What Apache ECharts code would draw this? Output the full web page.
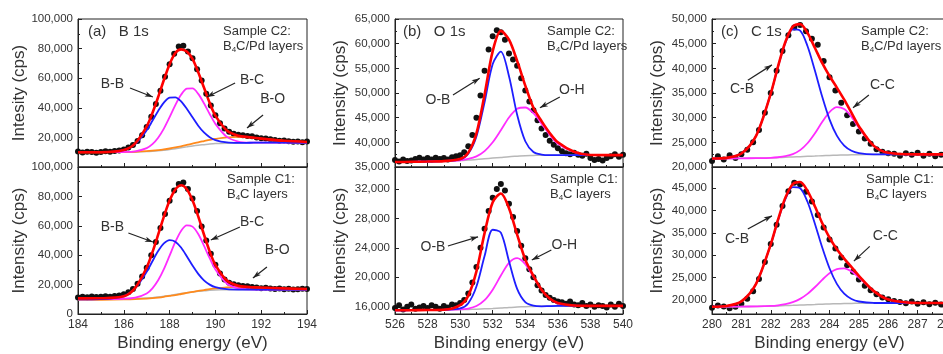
<!DOCTYPE html>
<html>
<head>
<meta charset="utf-8">
<script src="https://cdn.jsdelivr.net/npm/echarts@6/dist/echarts.min.js"></script>
<style>
  html, body { margin: 0; padding: 0; background: #fff; }
  #chart { width: 943px; height: 354px; }
</style>
</head>
<body>
<div id="chart"></div>
<script>
// ---- B 1s (binding energy grid for fitted curves / measured points)
const bCurveX = [184,185,186,186.5,187,187.25,187.5,187.75,188,188.25,188.5,188.75,189,189.25,189.5,189.75,190,190.5,191,191.5,192,193,194];
const bDotX = [184,184.2,184.4,184.6,184.8,185,185.2,185.4,185.6,185.8,186,186.2,186.4,186.6,186.8,187,187.2,187.4,187.6,187.8,188,188.2,188.4,188.6,188.8,189,189.2,189.4,189.6,189.8,190,190.2,190.4,190.6,190.8,191,191.2,191.4,191.6,191.8,192,192.2,192.4,192.6,192.8,193,193.2,193.4,193.6,193.8,194];

// sample C2 (B4C/Pd)
const b1sC2Dots = [10400,9800,10300,10100,9700,10200,10600,10300,10800,11200,11900,13200,14800,17600,21500,27000,34000,42500,51500,61000,69500,76500,81500,82000,78000,73500,66000,58500,49500,41500,35000,29500,26000,23800,22500,21800,21500,21000,20700,20000,19500,19200,18800,18200,17800,17900,17400,17000,17300,16800,17200];
const b1sC2Bg  = [10000,10000,10100,10200,10400,10600,10900,11300,11800,12400,13000,13600,14200,14700,15100,15500,15800,16100,16300,16400,16500,16500,16500];
const b1sC2BB  = [10000,10030,11430,15460,24770,31220,37900,43530,46850,47100,44350,39370,33540,27900,23320,20160,18200,16590,16300,16400,16500,16500,16500];
const b1sC2BC  = [10000,10000,10150,10620,12780,15430,19770,25950,33660,41860,48800,52880,53090,49430,43100,35850,29150,20340,17190,16520,16500,16500,16500];
const b1sC2BO  = [9900,9950,10100,10300,10700,11000,11400,11900,12500,13200,14000,14900,15800,16700,17500,18300,19000,20000,20300,20000,19200,17700,16900];
const b1sC2Fit = [10000,10000,11480,15980,27450,36450,47270,58780,69410,77000,79500,78000,73000,64000,53700,43300,34750,24730,21190,20120,19200,17700,16900];

// sample C1 (B4C)
const b1sC1Dots = [11200,11800,11400,11900,11500,11700,12000,11800,12200,12600,13400,14800,17000,20500,25500,31500,40000,49000,58500,68000,77000,84000,88500,89500,85000,78500,70000,59500,50000,41000,33500,27500,23500,21200,20300,19600,19000,18800,18400,18000,17600,17800,17300,17000,17400,16800,17100,16600,16900,17200,17000];
const b1sC1Bg  = [10000,10100,10300,10500,10800,11100,11500,12000,12600,13200,13900,14500,15000,15500,15800,16100,16300,16500,16600,16600,16600,16600,16600];
const b1sC1BB  = [10000,10150,12220,17580,28730,35910,42800,48000,50300,49200,45200,39310,32930,27300,22880,19970,18220,16860,16600,16600,16600,16600,16600];
const b1sC1BC  = [10000,10100,10370,11090,14000,17480,22930,30540,39730,49000,56540,60300,59420,54380,46510,37950,30350,20770,17460,16715,16600,16600,16600];
const b1sC1BO  = [9600,9700,9900,10100,10500,10800,11200,11700,12300,12900,13600,14300,15000,15700,16300,16900,17400,18100,18400,18300,18000,17400,17000];
const b1sC1Fit = [10600,10700,12000,17770,31630,41990,53930,66240,77130,84700,87540,84910,77350,66380,54090,42620,33370,22730,19260,18415,18000,17400,17000];

// ---- O 1s
const oCurveX = [526,527,528,529,530,530.5,531,531.5,532,532.5,533,533.5,534,534.5,535,535.5,536,537,538,539,540];
const oDotX = [526,526.25,526.5,526.75,527,527.25,527.5,527.75,528,528.25,528.5,528.75,529,529.25,529.5,529.75,530,530.25,530.5,530.75,531,531.25,531.5,531.75,532,532.25,532.5,532.75,533,533.25,533.5,533.75,534,534.25,534.5,534.75,535,535.25,535.5,535.75,536,536.25,536.5,536.75,537,537.25,537.5,537.75,538,538.25,538.5,538.75,539,539.25,539.5,539.75,540];

const o1sC2Dots = [36400,36100,36500,36200,36300,36600,36900,36500,36800,36500,36900,36600,36800,36500,37000,37200,37400,38000,39200,41500,45000,49500,54500,58800,61500,62700,62300,60800,58000,56800,55500,53000,50500,48300,46500,44500,42800,41500,40300,39500,38800,38200,37800,37600,37900,37500,37300,37700,36800,36400,36600,36300,36800,37200,37600,37100,37500];
const o1sC2Bg  = [36000,36050,36100,36200,36300,36400,36500,36650,36800,36950,37100,37200,37300,37350,37400,37400,37400,37400,37400,37400,37400];
const o1sC2OB  = [36000,36050,36100,36200,36540,37690,41170,48120,55860,58380,53400,45600,40220,38040,37510,37400,37400,37400,37400,37400,37400];
const o1sC2OH  = [36000,36050,36100,36200,36365,36630,37150,38230,40010,42450,45030,46790,47060,45900,43800,41500,39700,38000,37420,37400,37400];
const o1sC2Fit = [36000,36050,36100,36200,36605,37920,41820,49700,58500,62600,60800,56500,51500,47000,44300,41900,40000,38100,37420,37400,37400];

const o1sC1Dots = [15800,16200,15600,16000,16300,15700,15900,16100,15800,16200,16000,15700,16100,15900,16300,16200,16500,16900,17800,19300,21400,24000,26600,29000,30800,32000,32700,31800,30000,28200,26300,24300,22600,21100,20000,18900,18200,17600,17200,16900,16700,16600,16400,16700,16300,16200,16500,16100,16300,16000,16200,16100,15900,16300,16000,16400,16100];
const o1sC1Bg  = [15500,15520,15540,15570,15600,15620,15650,15700,15750,15820,15900,15950,16000,16030,16050,16080,16100,16100,16100,16100,16100];
const o1sC1OB  = [15500,15520,15540,15570,15750,16470,18740,22880,26460,26070,22180,18420,16620,16130,16050,16080,16100,16100,16100,16100,16100];
const o1sC1OH  = [15500,15520,15540,15570,15630,15746,16080,16880,18310,20230,21970,22590,21790,20060,18280,17060,16445,16120,16100,16100,16100];
const o1sC1Fit = [15500,15520,15540,15570,16200,17500,20800,26000,30200,31400,29400,25800,22400,20200,18300,17100,16500,16150,16100,16100,16100];

// ---- C 1s
const cCurveX = [280,280.5,281,281.5,282,282.25,282.5,282.75,283,283.25,283.5,283.75,284,284.25,284.5,284.75,285,285.5,286,287,288];
const cDotX = [280,280.2,280.4,280.6,280.8,281,281.2,281.4,281.6,281.8,282,282.2,282.4,282.6,282.8,283,283.2,283.4,283.6,283.8,284,284.2,284.4,284.6,284.8,285,285.2,285.4,285.6,285.8,286,286.2,286.4,286.6,286.8,287,287.2,287.4,287.6,287.8,288];

const c1sC2Dots = [21200,22200,21500,22400,21800,22600,23500,25000,27500,31000,35000,39500,43500,46700,48300,48800,47500,46000,44800,41500,38200,35500,33000,30500,28700,27200,25800,24700,23600,23100,22800,22700,22300,22800,22500,22900,22300,22700,22200,22500,22100];
const c1sC2Bg  = [21700,21725,21750,21800,21850,21910,21980,22040,22100,22160,22220,22290,22350,22390,22430,22470,22500,22530,22550,22550,22550];
const c1sC2CB  = [21710,21855,22720,26320,34870,40370,45180,47890,47650,44530,39600,34270,29660,26360,24330,23280,22810,22550,22550,22550,22550];
const c1sC2CC  = [21700,21725,21750,21800,21870,21980,22190,22610,23420,24810,26800,29120,31130,32130,31750,30160,27970,24310,22870,22550,22550];
const c1sC2Fit = [21710,21855,22720,26320,34890,40440,45390,48460,48970,47180,44180,41100,38440,36100,33650,30970,28280,24330,22870,22550,22550];

const c1sC1Dots = [18300,18800,18600,18200,18500,19200,20300,22000,24700,28500,32500,36800,41000,44300,46200,45800,44200,42000,39000,36200,33500,31500,29500,27800,26300,24600,23200,22200,21300,20600,20200,19800,19600,19300,19700,19200,19500,19100,19400,19000,19300];
const c1sC1Bg  = [18500,18525,18550,18600,18650,18710,18780,18840,18900,18960,19020,19090,19150,19190,19230,19270,19300,19330,19350,19350,19350];
const c1sC1CB  = [18516,18695,19720,23630,32400,37860,42560,45200,44960,41940,37110,31780,27100,23630,21440,20250,19690,19360,19350,19350,19350];
const c1sC1CC  = [18500,18525,18550,18600,18697,18840,19100,19540,20280,21400,22870,24520,26000,26930,27060,26360,25040,22030,20160,19370,19350];
const c1sC1Fit = [18516,18695,19720,23630,32447,37990,42880,45900,46340,44380,40960,37210,33950,31370,29270,27340,25430,22060,20160,19370,19350];

// tick labels where they do not start at the axis minimum
const o1sC1Ticks = [16000,20000,24000,28000,32000];
const c1sC1Ticks = [20000,25000,30000,35000,40000,45000];

// peak labels with arrows: text anchor, arrow start, arrow tip (data coords)
const annB2 = [
  {t:'B-B', at:[185.5,56000], from:[186.27,53400], to:[187.27,47300]},
  {t:'B-C', at:[191.6,58800], from:[190.86,56800], to:[189.63,47300]},
  {t:'B-O', at:[192.5,45900], from:[192.08,35100], to:[191.38,26400]}
];
const annB1 = [
  {t:'B-B', at:[185.5,59200], from:[186.2,55100], to:[187.27,49000]},
  {t:'B-C', at:[191.6,62600], from:[191.07,59200], to:[189.8,50300]},
  {t:'B-O', at:[192.7,43500], from:[192.25,32000], to:[191.64,24500]}
];
const annO2 = [
  {t:'O-B', at:[528.64,48580], from:[529.56,49600], to:[531.2,53000]},
  {t:'O-H', at:[536.86,50600], from:[536.12,49200], to:[534.9,47000]}
];
const annO1 = [
  {t:'O-B', at:[528.33,24100], from:[529.25,24250], to:[531.1,25500]},
  {t:'O-H', at:[536.4,24400], from:[535.6,23700], to:[534.4,22350]}
];
const annC2 = [
  {t:'C-B', at:[281.02,35800], from:[281.22,37600], to:[282.04,40700]},
  {t:'C-C', at:[285.8,36600], from:[285.34,34600], to:[284.8,32000]}
];
const annC1 = [
  {t:'C-B', at:[280.85,33600], from:[281.22,35860], to:[282.04,38800]},
  {t:'C-C', at:[285.9,34300], from:[285.37,32000], to:[284.83,28700]}
];

const FONT = '"Liberation Sans", Arial, sans-serif';
const COL = {dot:'#111', fit:'#ff0000', blue:'#1e1eff', mag:'#ff2cff', orange:'#ff8a1c', bg:'#b8b8b8', axis:'#222', text:'#333'};

function pair(xs, ys) { return xs.map((x, i) => [x, ys[i]]); }

const panels = [
  {grid:{left:78, top:19, width:229, height:148}, x:{min:184, max:194, interval:2}, y:{min:0, max:100000, interval:20000, hideMin:true},
   yName:'Intesity (cps)', bottom:false, cx:bCurveX, dx:bDotX, dots:b1sC2Dots, bg:b1sC2Bg,
   comps:[[b1sC2BO, COL.orange],[b1sC2BC, COL.mag],[b1sC2BB, COL.blue]], fit:b1sC2Fit, ann:annB2},
  {grid:{left:78, top:167, width:229, height:147}, x:{min:184, max:194, interval:2}, y:{min:0, max:100000, interval:20000},
   yName:'Intensity (cps)', bottom:true, cx:bCurveX, dx:bDotX, dots:b1sC1Dots, bg:b1sC1Bg,
   comps:[[b1sC1BO, COL.orange],[b1sC1BC, COL.mag],[b1sC1BB, COL.blue]], fit:b1sC1Fit, ann:annB1},
  {grid:{left:395, top:19, width:228, height:148}, x:{min:526, max:540, interval:2}, y:{min:35000, max:65000, interval:5000},
   yName:'Intensity (cps)', bottom:false, cx:oCurveX, dx:oDotX, dots:o1sC2Dots, bg:o1sC2Bg,
   comps:[[o1sC2OH, COL.mag],[o1sC2OB, COL.blue]], fit:o1sC2Fit, ann:annO2},
  {grid:{left:395, top:167, width:228, height:147}, x:{min:526, max:540, interval:2}, y:{min:15000, max:35000, custom:o1sC1Ticks},
   yName:'Intensity (cps)', bottom:true, cx:oCurveX, dx:oDotX, dots:o1sC1Dots, bg:o1sC1Bg,
   comps:[[o1sC1OH, COL.mag],[o1sC1OB, COL.blue]], fit:o1sC1Fit, ann:annO1},
  {grid:{left:712, top:19, width:235, height:148}, x:{min:280, max:288, interval:1}, y:{min:20000, max:50000, interval:5000},
   yName:'Intensity (cps)', bottom:false, cx:cCurveX, dx:cDotX, dots:c1sC2Dots, bg:c1sC2Bg,
   comps:[[c1sC2CC, COL.mag],[c1sC2CB, COL.blue]], fit:c1sC2Fit, ann:annC2},
  {grid:{left:712, top:167, width:235, height:147}, x:{min:280, max:288, interval:1}, y:{min:16900, max:49700, custom:c1sC1Ticks},
   yName:'Intensity (cps)', bottom:true, cx:cCurveX, dx:cDotX, dots:c1sC1Dots, bg:c1sC1Bg,
   comps:[[c1sC1CC, COL.mag],[c1sC1CB, COL.blue]], fit:c1sC1Fit, ann:annC1}
];

const grids = [], xAxes = [], yAxes = [], series = [];
panels.forEach((p, i) => {
  grids.push(Object.assign({show:true, borderColor:COL.axis, borderWidth:1, backgroundColor:'transparent',
                            containLabel:false, outerBoundsMode:'none'}, p.grid));
  xAxes.push({
    type:'value', gridIndex:i, min:p.x.min, max:p.x.max, interval:p.x.interval,
    axisLine:{show:true, onZero:false, lineStyle:{color:COL.axis, width:1}},
    axisTick:{show:true, inside:true, length:4, lineStyle:{color:COL.axis}},
    minorTick:{show:true, splitNumber:2, length:2, lineStyle:{color:COL.axis}},
    splitLine:{show:false},
    axisLabel:{show:p.bottom, color:COL.text, fontSize:12, margin:5, fontFamily:FONT},
    name:p.bottom ? 'Binding energy (eV)' : '', nameLocation:'middle', nameGap:21,
    nameTextStyle:{fontSize:17, color:COL.text, fontFamily:FONT}
  });
  const y = {
    type:'value', gridIndex:i, min:p.y.min, max:p.y.max,
    axisLine:{show:true, onZero:false, lineStyle:{color:COL.axis, width:1}},
    axisTick:{show:true, inside:true, length:4, lineStyle:{color:COL.axis}},
    splitLine:{show:false},
    axisLabel:{color:COL.text, fontSize:11.5, margin:5, fontFamily:FONT,
               formatter:v => v.toLocaleString('en-US')},
    name:p.yName, nameLocation:'middle', nameGap:46,
    nameTextStyle:{fontSize:17, color:COL.text, fontFamily:FONT}
  };
  if (p.y.custom) {
    y.axisLabel.customValues = p.y.custom;
    y.axisTick.customValues = p.y.custom;
  } else {
    y.interval = p.y.interval;
    y.minorTick = {show:true, splitNumber:2, length:2, lineStyle:{color:COL.axis}};
    if (p.y.hideMin) y.axisLabel.showMinLabel = false;
  }
  yAxes.push(y);

  series.push({type:'scatter', xAxisIndex:i, yAxisIndex:i, data:pair(p.dx, p.dots), symbol:'circle', symbolSize:6,
               itemStyle:{color:COL.dot, opacity:1}, z:1, silent:true});
  series.push({type:'line', xAxisIndex:i, yAxisIndex:i, data:pair(p.cx, p.bg), smooth:0.3, showSymbol:false,
               lineStyle:{color:COL.bg, width:1.5}, z:2, silent:true});
  p.comps.forEach(c => {
    series.push({type:'line', xAxisIndex:i, yAxisIndex:i, data:pair(p.cx, c[0]), smooth:0.3, showSymbol:false,
                 lineStyle:{color:c[1], width:1.8}, z:3, silent:true});
  });
  series.push({type:'line', xAxisIndex:i, yAxisIndex:i, data:pair(p.cx, p.fit), smooth:0.3, showSymbol:false,
               lineStyle:{color:COL.fit, width:2.6}, z:4, silent:true,
               markLine:{silent:true, symbol:['none','arrow'], symbolSize:[4,8], animation:false,
                         label:{show:false}, lineStyle:{color:COL.axis, width:1.2, type:'solid'},
                         data:p.ann.map(a => [{coord:a.from}, {coord:a.to}])},
               markPoint:{silent:true, symbol:'circle', symbolSize:1, animation:false,
                          itemStyle:{color:'rgba(0,0,0,0)'},
                          label:{show:true, position:'inside', formatter:'{b}', color:COL.text, fontSize:14, fontFamily:FONT},
                          data:p.ann.map(a => ({name:a.t, coord:a.at}))}});
});

function tag(left, top, text) {
  return {type:'text', left:left, top:top, silent:true,
          style:{text:text, fontSize:15, fontFamily:FONT, fill:COL.text}};
}
function sample(left, top, text) {
  return {type:'text', left:left, top:top, silent:true,
          style:{text:text, fontSize:13, fontFamily:FONT, fill:COL.text, lineHeight:15,
                 rich:{s:{fontSize:8, fontFamily:FONT, fill:COL.text, lineHeight:15, verticalAlign:'bottom'}}}};
}

const chart = echarts.init(document.getElementById('chart'), null, {renderer:'canvas'});
chart.setOption({
  animation:false,
  backgroundColor:'#fff',
  textStyle:{fontFamily:FONT},
  grid:grids, xAxis:xAxes, yAxis:yAxes, series:series,
  graphic:[
    tag(88, 24, '(a)   B 1s'), tag(403, 24, '(b)   O 1s'), tag(721, 24, '(c)   C 1s'),
    sample(223, 24, 'Sample C2:\nB{s|4}C/Pd layers'),
    sample(547, 24, 'Sample C2:\nB{s|4}C/Pd layers'),
    sample(861, 24, 'Sample C2:\nB{s|4}C/Pd layers'),
    sample(227, 172, 'Sample C1:\nB{s|4}C layers'),
    sample(550, 172, 'Sample C1:\nB{s|4}C layers'),
    sample(866, 172, 'Sample C1:\nB{s|4}C layers')
  ]
});
</script>
</body>
</html>
